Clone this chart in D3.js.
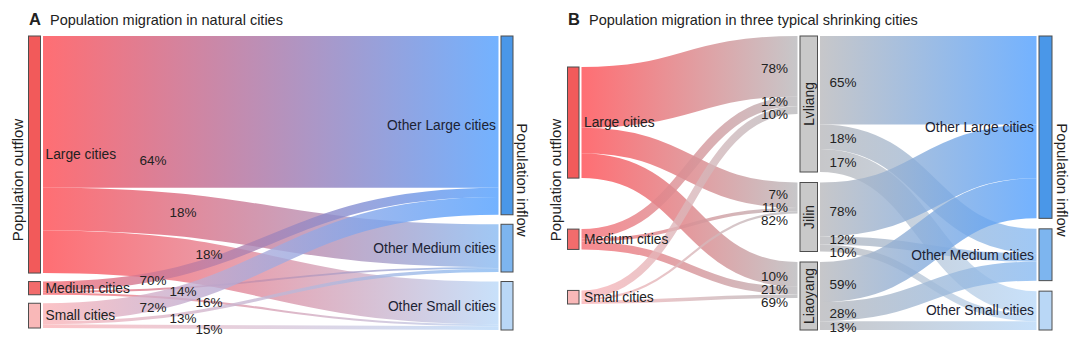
<!DOCTYPE html>
<html>
<head>
<meta charset="utf-8">
<script src="https://cdn.jsdelivr.net/npm/d3@7"></script>
<style>
  body { margin: 0; background: #fff; }
  svg { display: block; }
  text { font-family: "Liberation Sans", Arial, sans-serif; fill: #222; }
</style>
</head>
<body>
<svg id="chart" width="1080" height="344"></svg>
<script>
// ---------------- data ----------------
const originTypes = ["Large cities", "Medium cities", "Small cities"];
const destinationTypes = ["Other Large cities", "Other Medium cities", "Other Small cities"];

// Panel A: share of total outflow by origin city type (%)
const naturalOutflow = [86.2, 4.8, 9.0];
// split of each origin's outflow over destinations (%), in destination order
const naturalFromLarge = [64, 18, 18];
const naturalFromMedium = [70, 14, 16];
const naturalFromSmall = [72, 13, 15];

// Panel B: three shrinking cities
const shrinkingCities = ["Lvliang", "Jilin", "Liaoyang"];
const shrinkingInflow = [78, 31, 36];    // relative inflow volume
const shrinkingOutflow = [136, 69, 68];  // relative outflow volume
// composition of each city's inflow by origin type (%)
const inflowFromLarge = [78, 82, 69];
const inflowFromMedium = [12, 11, 21];
const inflowFromSmall = [10, 7, 10];
// split of each city's outflow by destination type (%)
const outflowToLarge = [65, 78, 59];
const outflowToMedium = [18, 12, 28];
const outflowToSmall = [17, 10, 13];

// ---------------- styles ----------------
const originFill = ["#f25a5a", "#f26c6c", "#f9b8b8"];
const originLink = ["#ff4a50", "#f66b72", "#fbb4b8"];
const destFill = ["#4a97e8", "#7db5ef", "#b9d7f6"];
const destLink = ["#509fff", "#88baf2", "#bad9f9"];
const cityFill = "#c9c9c9";
const cityLink = "#b9b9bc";

const svg = d3.select("#chart");
const defs = svg.append("defs");
let gradCount = 0;

// groups overlapping labels and spreads them evenly around their mean
function spread(ys, gap) {
  let groups = ys.map(y => ({ sum: y, n: 1, start: y }));
  let merged = true;
  while (merged) {
    merged = false;
    for (let i = 0; i < groups.length - 1; i++) {
      const a = groups[i], b = groups[i + 1];
      const aEnd = a.start + (a.n - 1) * gap;
      if (b.start - aEnd < gap) {
        const n = a.n + b.n, sum = a.sum + b.sum;
        groups.splice(i, 2, { sum, n, start: sum / n - (n - 1) * gap / 2 });
        merged = true;
        break;
      }
    }
  }
  return groups.flatMap(g => d3.range(g.n).map(k => g.start + k * g.n * 0 + k * gap));
}

function drawPanel(cfg) {
  const g = svg.append("g");
  const nodes = cfg.nodes.map(d => ({ ...d, sourceLinks: [], targetLinks: [] }));
  const byName = new Map(nodes.map(d => [d.name, d]));
  const links = cfg.links.map(l => ({ ...l, source: byName.get(l.source), target: byName.get(l.target) }));
  links.forEach(l => { l.source.sourceLinks.push(l); l.target.targetLinks.push(l); });
  nodes.forEach(n => {
    n.value = Math.max(d3.sum(n.sourceLinks, l => l.value), d3.sum(n.targetLinks, l => l.value));
  });

  const columns = cfg.columns.map((c, i) => ({ ...c, nodes: nodes.filter(n => n.col === i) }));

  // vertical scale shared by all columns of the panel
  const span = cfg.y1 - cfg.y0;
  const ky = d3.min(columns.filter(c => !c.gaps), c =>
    (span - c.padding * (c.nodes.length - 1)) / d3.sum(c.nodes, n => n.value));
  const y = d3.scaleLinear().domain([0, 1]).range([0, ky]);

  columns.forEach(c => {
    let pos = cfg.y0 + (c.gaps ? c.gaps[0] : 0);
    c.nodes.forEach((n, k) => {
      n.x0 = c.x; n.x1 = c.x + c.w;
      n.y0 = pos; n.y1 = pos + y(n.value);
      pos = n.y1 + (c.gaps ? c.gaps[k + 1] || 0 : c.padding);
    });
  });

  links.forEach(l => { l.width = y(l.value); });
  nodes.forEach(n => {
    n.sourceLinks.sort((a, b) => a.target.y0 - b.target.y0);
    n.targetLinks.sort((a, b) => a.source.y0 - b.source.y0);
    let s = n.y0;
    n.sourceLinks.forEach(l => { l.y0 = s + l.width / 2; s += l.width; });
    let t = n.y0;
    n.targetLinks.forEach(l => { l.y1 = t + l.width / 2; t += l.width; });
  });

  // links with a colour gradient from source to target
  const linkPath = d3.linkHorizontal()
    .source(l => [l.source.x1 + cfg.linkGap, l.y0])
    .target(l => [l.target.x0 - cfg.linkGap, l.y1]);

  links.forEach(l => {
    const id = "grad" + (gradCount++);
    const grad = defs.append("linearGradient")
      .attr("id", id)
      .attr("gradientUnits", "userSpaceOnUse")
      .attr("x1", l.source.x1 + cfg.linkGap).attr("x2", l.target.x0 - cfg.linkGap)
      .attr("y1", 0).attr("y2", 0);
    grad.append("stop").attr("offset", "0%").attr("stop-color", l.source.linkColor);
    grad.append("stop").attr("offset", "100%").attr("stop-color", l.target.linkColor);
    l.grad = id;
  });

  g.append("g").selectAll("path").data(links).join("path")
    .attr("d", linkPath)
    .attr("fill", "none")
    .attr("stroke", l => `url(#${l.grad})`)
    .attr("stroke-width", l => Math.max(1, l.width))
    .attr("stroke-opacity", 0.8);

  g.append("g").selectAll("rect").data(nodes).join("rect")
    .attr("x", n => n.x0).attr("y", n => n.y0)
    .attr("width", n => n.x1 - n.x0).attr("height", n => n.y1 - n.y0)
    .attr("fill", n => n.fill)
    .attr("stroke", "#4d4d4d").attr("stroke-width", 1);

  // node names
  const lab = g.append("g").style("font-size", cfg.nodeFont + "px");
  nodes.forEach(n => {
    const c = cfg.columns[n.col];
    const cy = (n.y0 + n.y1) / 2;
    if (c.labelSide === "right") {
      lab.append("text").attr("x", n.x1 + 5).attr("y", cy).attr("dy", "0.35em").text(n.name);
    } else if (c.labelSide === "left") {
      lab.append("text").attr("x", n.x0 - 5).attr("y", cy).attr("dy", "0.35em")
        .attr("text-anchor", "end").style("fill", "#1c2333").text(n.name);
    } else {
      lab.append("text").attr("transform", `translate(${(n.x0 + n.x1) / 2},${cy}) rotate(-90)`)
        .attr("dy", "0.35em").attr("text-anchor", "middle").text(n.name);
    }
  });

  // percentage labels
  const pct = g.append("g").style("font-size", cfg.pctFont + "px");
  cfg.pctLabels.forEach(spec => {
    nodes.filter(n => n.col === spec.col).forEach(n => {
      let ls = spec.side === "out" ? n.sourceLinks : n.targetLinks;
      let centers;
      const h = n.y1 - n.y0;
      if (spec.mode === "node" && h < ls.length * spec.gap) {
        const cy = (n.y0 + n.y1) / 2;
        centers = ls.map((l, k) => cy + (k - (ls.length - 1) / 2) * spec.gap);
      } else {
        centers = spread(ls.map(l => spec.side === "out" ? l.y0 : l.y1), spec.gap);
      }
      const order = (spec.reversed || []).includes(n.name) ? ls.slice().reverse() : ls;
      order.forEach((l, k) => {
        const shift = (cfg.labelShift || {})[l.source.name + ">" + l.target.name] || 0;
        const x = spec.side === "out"
          ? n.x1 + (spec.xOffsets ? spec.xOffsets[k] : spec.offset)
          : n.x0 - spec.offset;
        pct.append("text")
          .attr("x", x).attr("y", centers[k] + spec.dy + shift)
          .attr("dy", "0.35em")
          .attr("text-anchor", spec.side === "out" ? "start" : "end")
          .text(l.label);
      });
    });
  });

  // panel title
  const t = g.append("text").attr("x", cfg.titleX).attr("y", 25);
  t.append("tspan").style("font-weight", "bold").style("font-size", "16.5px").text(cfg.letter);
  t.append("tspan").attr("x", cfg.titleX + 21).style("font-size", "14.5px").text(cfg.title);

  g.append("text")
    .attr("transform", `translate(${cfg.outX},180) rotate(-90)`)
    .attr("text-anchor", "middle").attr("dy", "0.35em")
    .style("font-size", "15px").text("Population outflow");
  g.append("text")
    .attr("transform", `translate(${cfg.inX},180) rotate(90)`)
    .attr("text-anchor", "middle").attr("dy", "0.35em")
    .style("font-size", "15px").text("Population inflow");
}

// ---------------- panel A ----------------
const naturalShares = [naturalFromLarge, naturalFromMedium, naturalFromSmall];
const nodesA = [
  ...originTypes.map((name, i) => ({ name, col: 0, fill: originFill[i], linkColor: originLink[i] })),
  ...destinationTypes.map((name, j) => ({ name, col: 1, fill: destFill[j], linkColor: destLink[j] }))
];
const linksA = [];
originTypes.forEach((o, i) => destinationTypes.forEach((d, j) => {
  linksA.push({ source: o, target: d, value: naturalOutflow[i] * naturalShares[i][j] / 100,
                label: naturalShares[i][j] + "%" });
}));

drawPanel({
  letter: "A", title: "Population migration in natural cities", titleX: 29,
  nodes: nodesA, links: linksA,
  y0: 36, y1: 330, linkGap: 2.5,
  columns: [
    { x: 28.5, w: 12, padding: 8.5, labelSide: "right" },
    { x: 501, w: 12, padding: 9.5, labelSide: "left" }
  ],
  nodeFont: 13.8, pctFont: 13.5,
  pctLabels: [{ col: 0, side: "out", mode: "node", gap: 11, dy: 3, xOffsets: [99, 129, 155] }],
  labelShift: { "Large cities>Other Large cities": 45 },
  outX: 18, inX: 522
});

// ---------------- panel B ----------------
const inflowShares = [inflowFromLarge, inflowFromMedium, inflowFromSmall];
const outflowShares = [outflowToLarge, outflowToMedium, outflowToSmall];
const nodesB = [
  ...originTypes.map((name, i) => ({ name, col: 0, fill: originFill[i], linkColor: originLink[i] })),
  ...shrinkingCities.map(name => ({ name, col: 1, fill: cityFill, linkColor: cityLink })),
  ...destinationTypes.map((name, j) => ({ name, col: 2, fill: destFill[j], linkColor: destLink[j] }))
];
const linksB = [];
originTypes.forEach((o, i) => shrinkingCities.forEach((c, k) => {
  linksB.push({ source: o, target: c, value: shrinkingInflow[k] * inflowShares[i][k] / 100,
                label: inflowShares[i][k] + "%" });
}));
shrinkingCities.forEach((c, k) => destinationTypes.forEach((d, j) => {
  linksB.push({ source: c, target: d, value: shrinkingOutflow[k] * outflowShares[j][k] / 100,
                label: outflowShares[j][k] + "%" });
}));

drawPanel({
  letter: "B", title: "Population migration in three typical shrinking cities", titleX: 568,
  nodes: nodesB, links: linksB,
  y0: 36, y1: 330, linkGap: 2.5,
  columns: [
    { x: 567.5, w: 11.5, gaps: [31, 51, 41], labelSide: "right" },
    { x: 800, w: 17.5, padding: 10.5, labelSide: "inside" },
    { x: 1039, w: 13, padding: 10.5, labelSide: "left" }
  ],
  nodeFont: 13.8, pctFont: 13.5,
  pctLabels: [
    { col: 1, side: "in", mode: "spread", gap: 13, dy: 2, offset: 12, reversed: ["Jilin", "Liaoyang"] },
    { col: 1, side: "out", mode: "spread", gap: 13, dy: 2, offset: 12 }
  ],
  outX: 556, inX: 1062
});
</script>
</body>
</html>
